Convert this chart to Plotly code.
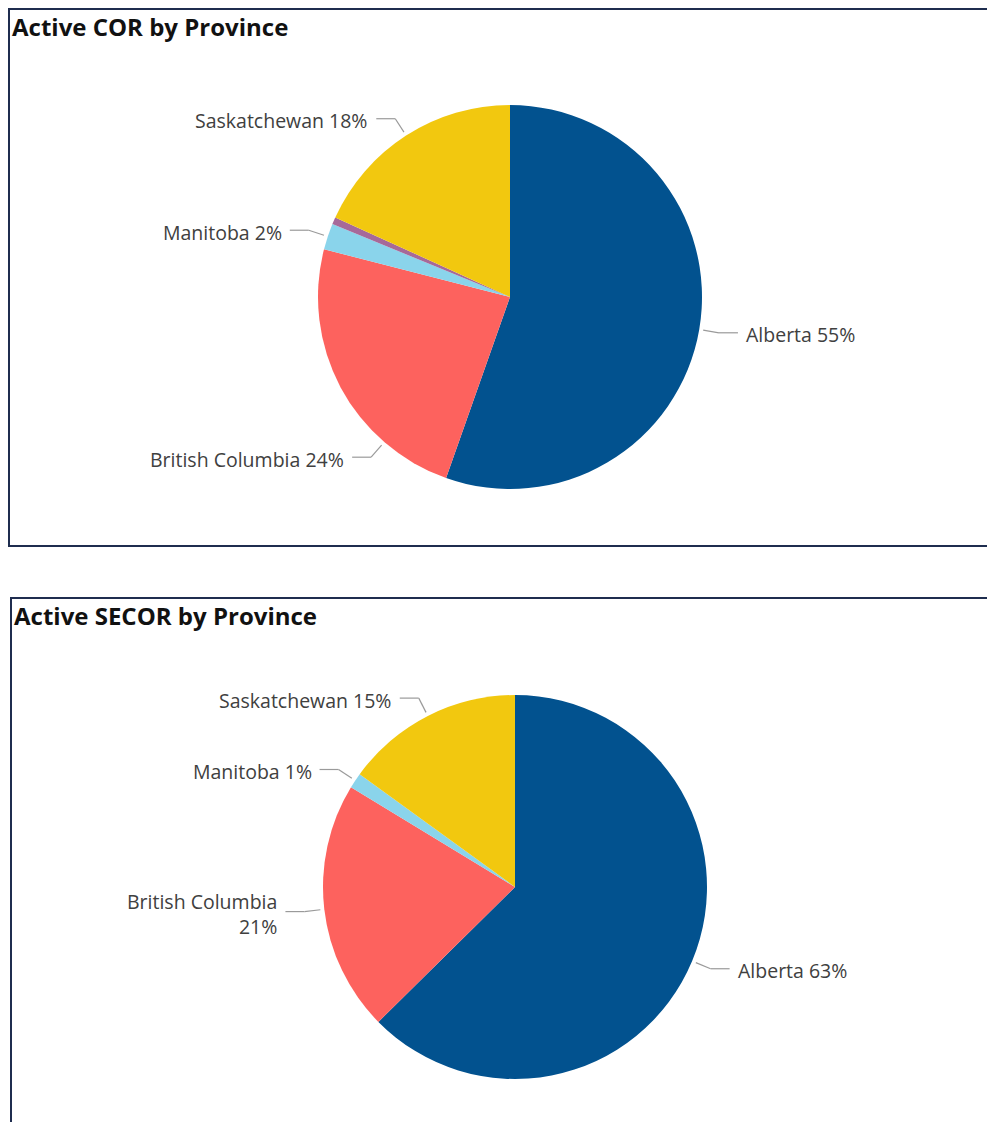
import numpy as np
import plotly.graph_objects as go

# ---------------- data ----------------
cor_title = "Active COR by Province"
cor_labels = ["Alberta", "British Columbia", "Manitoba", "Other", "Saskatchewan"]
cor_values = [55.4, 23.6, 2.2, 0.6, 18.2]

secor_title = "Active SECOR by Province"
secor_labels = ["Alberta", "British Columbia", "Manitoba", "Saskatchewan"]
secor_values = [62.6, 21.1, 1.3, 15.0]

# ---------------- style ----------------
OFF = 8  # page body margin
W, H = 995 - OFF, 1122 - OFF
COLORS = {
    "Alberta": "#02528F",
    "British Columbia": "#FD625E",
    "Manitoba": "#8AD4EB",
    "Other": "#A66999",
    "Saskatchewan": "#F2C80F",
}
BORDER = "#1F2D4F"
LEADER = "#9A9A9A"
LABEL_COLOR = "#404040"
FONT = "Open Sans, Noto Sans, sans-serif"
LABEL_SIZE = 19.5
TITLE_SIZE = 24

panels = [
    dict(title=cor_title, labels=cor_labels, values=cor_values,
         cx=510, cy=297, r=192, box=(9, 9, 1010, 546),
         angle_shift={"British Columbia": -21}, wrap=set()),
    dict(title=secor_title, labels=secor_labels, values=secor_values,
         cx=515, cy=887, r=192, box=(11, 598, 1010, 1140),
         angle_shift={}, wrap={"British Columbia"}),
]


def px(x):
    return (x - OFF) / W


def py(y):
    return 1 - (y - OFF) / H


fig = go.Figure()
shapes = []
annotations = []

for p in panels:
    cx, cy, r = p["cx"], p["cy"], p["r"]
    fig.add_trace(go.Pie(
        labels=p["labels"], values=p["values"],
        marker=dict(colors=[COLORS[l] for l in p["labels"]], line=dict(width=0)),
        sort=False, direction="clockwise", rotation=0,
        textinfo="none", showlegend=False, hoverinfo="label+percent",
        domain=dict(x=[px(cx - r), px(cx + r)], y=[py(cy + r), py(cy - r)]),
    ))

    vals = np.array(p["values"], dtype=float)
    pct = vals / vals.sum() * 100
    ends = np.cumsum(pct) * 3.6
    starts = ends - pct * 3.6
    mids = (starts + ends) / 2
    for lab, pc, m in zip(p["labels"], pct, mids):
        if pc < 1:
            continue
        a = np.deg2rad(m + p["angle_shift"].get(lab, 0))
        sx, sy = np.sin(a), -np.cos(a)
        x0, y0 = cx + (r + 4) * sx, cy + (r + 4) * sy
        x1, y1 = cx + (r + 20) * sx, cy + (r + 20) * sy
        side = 1 if sx >= 0 else -1
        x2 = x1 + side * 19
        for (ax, ay, bx, by) in [(x0, y0, x1, y1), (x1, y1, x2, y1)]:
            shapes.append(dict(type="line", xref="paper", yref="paper",
                               x0=px(ax), y0=py(ay), x1=px(bx), y1=py(by),
                               line=dict(color=LEADER, width=1.2)))
        sep = "<br>" if lab in p["wrap"] else " "
        txt = f"{lab}{sep}{round(pc)}%"
        annotations.append(dict(
            x=px(x2 + side * 6), y=py(y1 + 2), xref="paper", yref="paper",
            text=txt, showarrow=False,
            xanchor="left" if side > 0 else "right", yanchor="middle",
            align="left" if side > 0 else "right",
            font=dict(family=FONT, size=LABEL_SIZE, color=LABEL_COLOR),
        ))

    bx0, by0, bx1, by1 = p["box"]
    shapes.append(dict(type="rect", xref="paper", yref="paper",
                       x0=px(bx0), y0=py(by1), x1=px(bx1), y1=py(by0),
                       line=dict(color=BORDER, width=2), fillcolor="rgba(0,0,0,0)"))
    annotations.append(dict(
        x=px(bx0 + 1), y=py(by0 - 1), xref="paper", yref="paper",
        text=f"<b>{p['title']}</b>", showarrow=False,
        xanchor="left", yanchor="top",
        font=dict(family=FONT, size=TITLE_SIZE, color="#111111"),
    ))

fig.update_layout(
    width=W, height=H,
    margin=dict(l=0, r=0, t=0, b=0),
    paper_bgcolor="white", plot_bgcolor="white",
    shapes=shapes, annotations=annotations,
)

fig.write_html("out.html")
